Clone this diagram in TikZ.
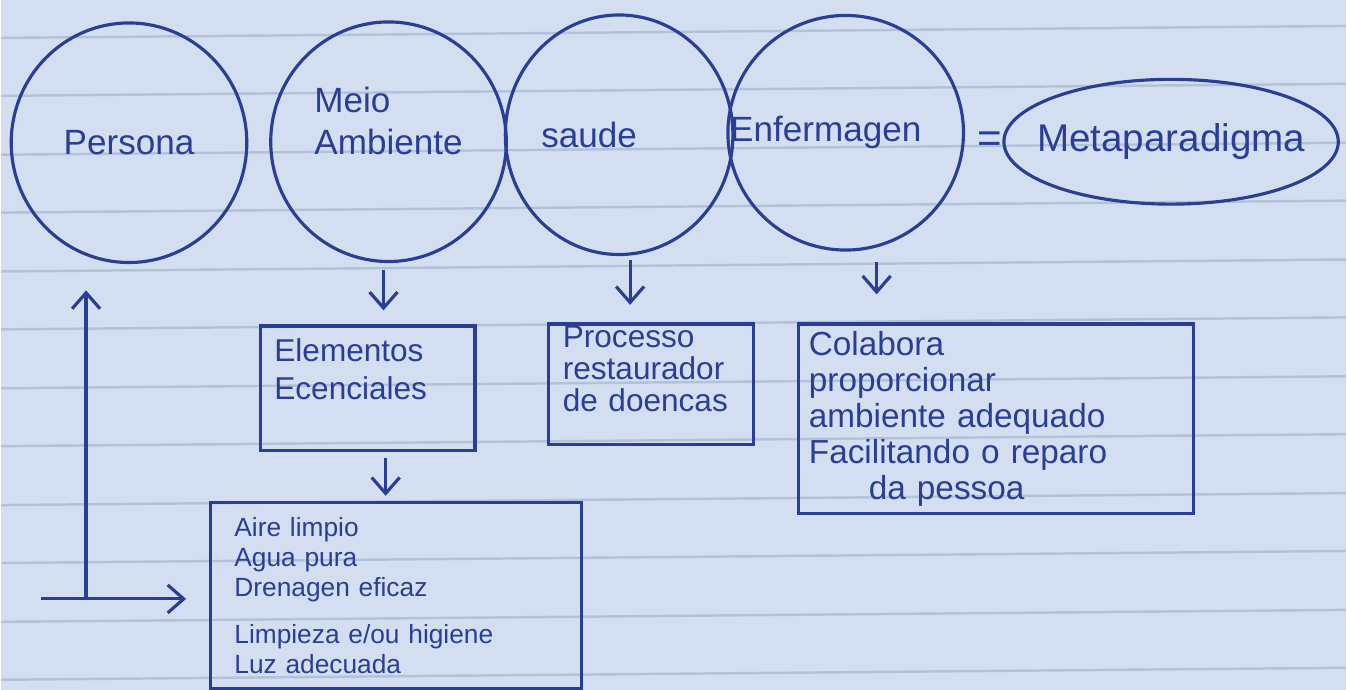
\documentclass[tikz,border=0pt]{standalone}
\usepackage{fontspec}
\setmainfont{Liberation Sans}
\usetikzlibrary{arrows.meta,shapes.geometric,positioning}

\definecolor{ink}{HTML}{2B3E96}
\definecolor{paper}{HTML}{D3DFF0}
\definecolor{ruled}{HTML}{B3C2D9}

\begin{document}
\begin{tikzpicture}[>={Straight Barb[length=1.6mm,width=2.8mm]},line width=0.9pt,
    concept/.style={ellipse,draw=ink,inner sep=0pt,minimum width=2.36cm,minimum height=2.4cm},
    every label/.style={text=ink,font=\normalsize},
    notebox/.style={rectangle,draw=ink,text=ink,anchor=north west,align=left,inner xsep=4pt,inner ysep=2pt}]
  % notebook page
  \fill[paper] (0,0) rectangle (13.47,-6.91);
  \foreach \y in {0.32,0.90,1.49,2.07,2.66,3.24,3.83,4.41,5.00,5.58,6.17,6.75}
    \draw[ruled,line width=0.7pt] (0,-\y-0.06) -- (13.47,-\y+0.06);
  \useasboundingbox (0,0) rectangle (13.47,-6.91);

  \node[concept,label={center:Persona}] (persona) at (1.28,-1.43) {};
  \node[concept,label={[align=left]center:Meio\\Ambiente\\\mbox{}}] (meio) at (3.88,-1.42) {};
  \node[concept,minimum width=2.28cm,label={[xshift=-0.3cm]center:saude}] (saude) at (6.19,-1.35) {};
  \node[concept,minimum height=2.35cm,label={[xshift=-0.2cm]center:Enfermagen}] (enf) at (8.46,-1.33) {};
  \node[text=ink,font=\large] (eq) at (9.90,-1.42) {=};
  \node[concept,minimum width=3.35cm,minimum height=1.25cm,
        label={[font=\fontsize{11}{13}\selectfont]center:Metaparadigma}] (meta) at (11.72,-1.42) {};

  \node[notebox,text width=1.87cm,minimum height=1.25cm,inner ysep=0pt,font=\small] (elem) at (2.58,-3.25)
    {Elementos\\Ecenciales\\\mbox{}};
  \node[notebox,text width=1.77cm,minimum height=1.21cm,inner ysep=0pt,font=\fontsize{9}{9}\selectfont] (proc) at (5.47,-3.23)
    {Processo\\restaurador\\de doencas\\\mbox{}};
  \node[notebox,text width=3.75cm,minimum height=1.80cm,inner xsep=3pt,font=\fontsize{9.5}{10.3}\selectfont] (enfbox) at (7.97,-3.23)
    {Colabora\\proporcionar\\ambiente adequado\\Facilitando o reparo\\\hspace{0.6cm}da pessoa};
  \node[notebox,text width=3.24cm,minimum height=1.86cm,inner xsep=0.24cm,font=\fontsize{7.5}{8.5}\selectfont] (aire) at (2.08,-5.02)
    {Aire limpio\\Agua pura\\Drenagen eficaz\\[5pt]Limpieza e/ou higiene\\Luz adecuada};

  \coordinate (tail) at (0.40,-6.00);
  \coordinate (corner) at (0.85,-6.00);

  \draw[->,ink,shorten <=2pt,shorten >=4pt] ([xshift=-0.05cm]meio.south) -- ([xshift=-0.05cm]meio.south |- elem.north);
  \draw[->,ink,shorten <=1pt,shorten >=5pt] ([xshift=0.11cm]saude.south) -- ([xshift=0.11cm]saude.south |- proc.north);
  \draw[->,ink,shorten <=3pt,shorten >=8pt] ([xshift=0.31cm]enf.south) -- ([xshift=0.31cm]enf.south |- enfbox.north);
  \draw[->,ink,shorten <=1.5pt,shorten >=1.5pt] ([xshift=0.18cm]elem.south) -- ([xshift=0.18cm]elem.south |- aire.north);
  \draw[->,ink,shorten >=7.5pt] (corner) -- (corner |- persona.south);
  \draw[->,ink,shorten >=6.5pt] (tail) -- (tail -| aire.west);
\end{tikzpicture}
\end{document}
